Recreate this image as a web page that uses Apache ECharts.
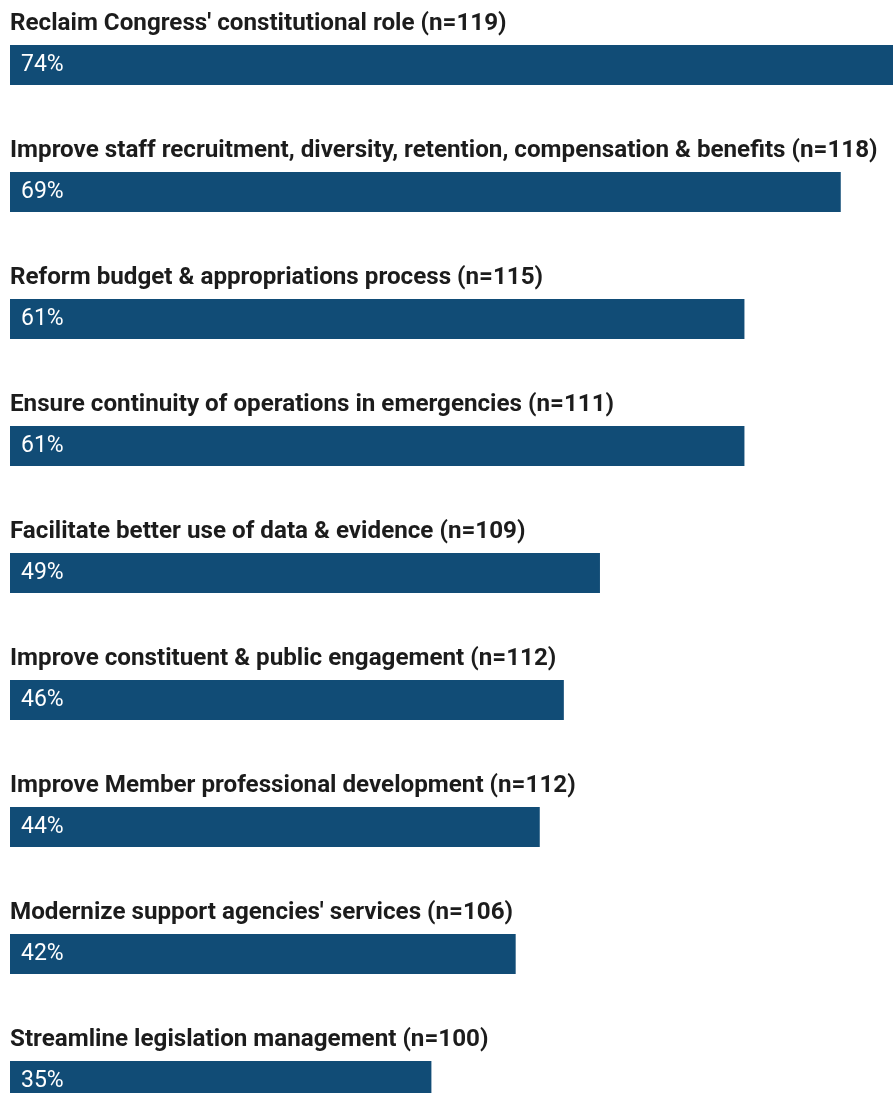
<!DOCTYPE html>
<html>
<head>
<meta charset="utf-8">
<script src="https://cdn.jsdelivr.net/npm/echarts@6/dist/echarts.min.js"></script>
<style>
  html, body { margin: 0; padding: 0; background: #ffffff; }
  #chart { width: 893px; height: 1093px; }
</style>
</head>
<body>
<div id="chart"></div>
<script>
// Priority areas for congressional modernization, share of respondents
const categories = [
  "Reclaim Congress' constitutional role (n=119)",
  "Improve staff recruitment, diversity, retention, compensation & benefits (n=118)",
  "Reform budget & appropriations process (n=115)",
  "Ensure continuity of operations in emergencies (n=111)",
  "Facilitate better use of data & evidence (n=109)",
  "Improve constituent & public engagement (n=112)",
  "Improve Member professional development (n=112)",
  "Modernize support agencies' services (n=106)",
  "Streamline legislation management (n=100)"
];
const percentages = [74, 69, 61, 61, 49, 46, 44, 42, 35];

const BAR_COLOR = '#114c76';
const FONT = 'Roboto, "Noto Sans", sans-serif';

const chart = echarts.init(document.getElementById('chart'), null, { renderer: 'canvas' });

chart.setOption({
  animation: false,
  backgroundColor: '#ffffff',
  // plot area runs past the right and bottom edges; the last rows are cut off
  grid: {
    left: 10, top: 1.5, width: 1204, height: 1143,
    containLabel: false,
    outerBoundsMode: 'none'
  },
  xAxis: {
    type: 'value', min: 0, max: 100,
    show: false
  },
  yAxis: {
    type: 'category', data: categories, inverse: true,
    show: false
  },
  series: [
    {
      // filled bars with percentage label inside
      type: 'bar',
      data: percentages,
      barWidth: 40,
      clip: false,
      itemStyle: { color: BAR_COLOR },
      label: {
        show: true,
        position: 'insideLeft',
        distance: 11,
        formatter: p => p.value + '%',
        color: '#ffffff',
        fontFamily: FONT,
        fontSize: 23,
        fontWeight: 'normal'
      },
      z: 2
    },
    {
      // invisible overlay carrying the category heading above each bar
      type: 'bar',
      data: percentages,
      barWidth: 40,
      barGap: '-100%',
      clip: false,
      itemStyle: { color: 'rgba(0,0,0,0)' },
      silent: true,
      label: {
        show: true,
        position: [0, -9],
        verticalAlign: 'bottom',
        align: 'left',
        formatter: p => p.name,
        color: '#1c1c1c',
        fontFamily: FONT,
        fontSize: 24.2,
        fontWeight: 'bold'
      },
      z: 3
    }
  ]
});
</script>
</body>
</html>
